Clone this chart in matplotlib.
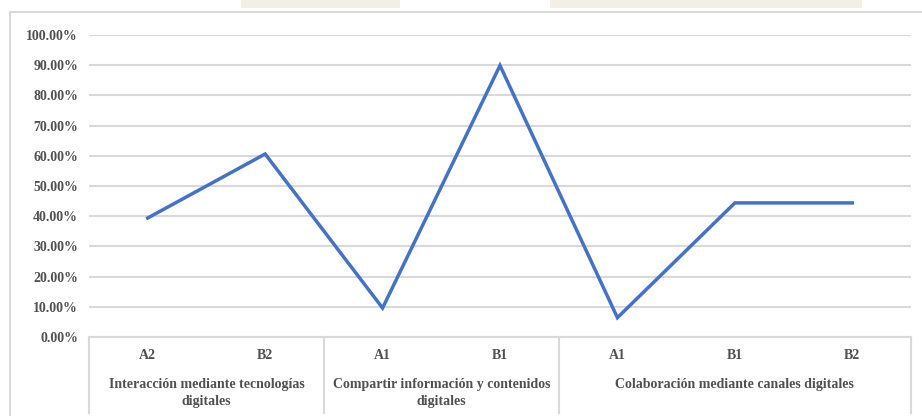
import matplotlib.pyplot as plt
from matplotlib.lines import Line2D
from matplotlib.patches import Rectangle
from matplotlib.transforms import blended_transform_factory

# niveles por competencia
levels = ['A2', 'B2', 'A1', 'B1', 'A1', 'B1', 'B2']
values = [39.4, 60.6, 9.6, 89.9, 6.4, 44.4, 44.4]
groups = ['Interacción mediante tecnologías\ndigitales',
          'Compartir información y contenidos\ndigitales',
          'Colaboración mediante canales digitales']
group_sizes = [2, 2, 3]
yticks = [i * 10 for i in range(11)]

txt = '#505050'
grid = '#d9d9d9'
font = dict(family='Liberation Serif', weight='bold', color=txt, fontsize=10)

W, H = 922, 416
fig = plt.figure(figsize=(W / 100, H / 100), dpi=100)
fig.patch.set_facecolor('white')

# marco exterior del grafico y recortes de pagina arriba
fig.add_artist(Line2D([10 / W, 1], [1 - 12 / H, 1 - 12 / H], color=grid, lw=1.5))
fig.add_artist(Line2D([10 / W, 10 / W], [0, 1 - 12 / H], color=grid, lw=1.5))
for x0, x1 in [(241, 400), (550, 862)]:
    fig.add_artist(Rectangle((x0 / W, 1 - 8 / H), (x1 - x0) / W, 8 / H,
                             color='#f2efe6', lw=0))

left, right, top, bottom = 89, 911, 35, 337
ax = fig.add_axes([left / W, 1 - bottom / H, (right - left) / W, (bottom - top) / H])
x = list(range(len(levels)))
ax.plot(x, [v / 100 for v in values], color='#4472c4', lw=2.5, solid_joinstyle='miter')

ax.set_xlim(-0.5, len(levels) - 0.5)
ax.set_ylim(0, 1)
ax.set_yticks([t / 100 for t in yticks])
ax.set_yticklabels([f'{t:.2f}%' for t in yticks], **font)
ax.tick_params(axis='y', length=0, pad=8)
ax.yaxis.grid(True, color=grid, lw=1.5)
ax.set_axisbelow(True)
for s in ax.spines.values():
    s.set_visible(False)
ax.set_xticks([])

# eje de categorias en dos niveles
tr = blended_transform_factory(ax.transData, ax.transAxes)
for i, lab in enumerate(levels):
    ax.text(i, -0.06, lab, ha='center', va='center', transform=tr, **font)

box_bottom = -(H - bottom) / (bottom - top)
ax.plot([-0.5, len(levels) - 0.5], [0, 0], transform=tr, color=grid, lw=1.5, clip_on=False)
start = 0
edges = [-0.5]
for name, n in zip(groups, group_sizes):
    center = start + (n - 1) / 2
    ax.text(center, -0.135, name, ha='center', va='top', transform=tr,
            linespacing=1.4, **font)
    start += n
    edges.append(start - 0.5)
for e in edges:
    ax.plot([e, e], [0, box_bottom * 0.96], transform=tr, color=grid, lw=1.5, clip_on=False)

fig.savefig('out.png', dpi=100)
